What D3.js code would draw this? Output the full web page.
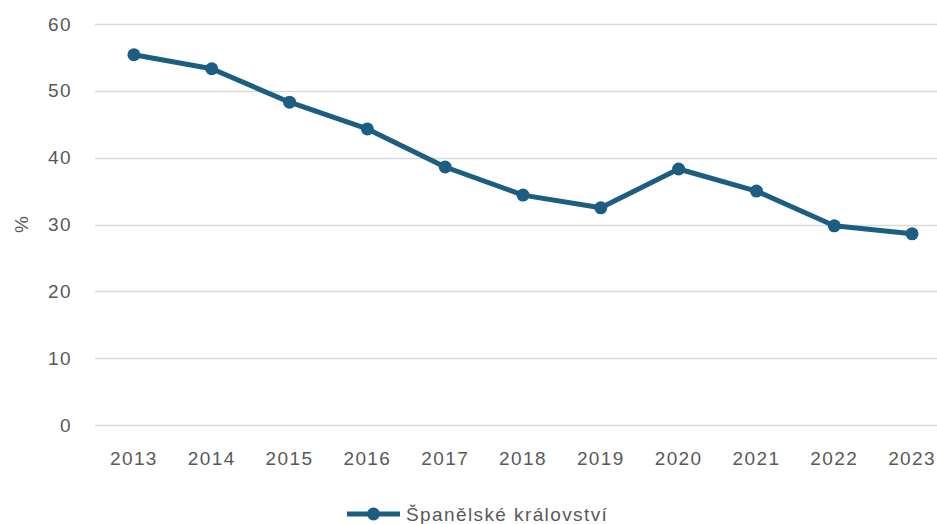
<!DOCTYPE html>
<html>
<head>
<meta charset="utf-8">
<script src="https://cdn.jsdelivr.net/npm/d3@7"></script>
<style>
  body { margin: 0; background: #fff; }
  svg { display: block; font-family: "Liberation Sans", Arial, sans-serif; }
</style>
</head>
<body>
<svg id="chart"></svg>
<script>
const years = ["2013", "2014", "2015", "2016", "2017", "2018", "2019", "2020", "2021", "2022", "2023"];
const values = [55.4, 53.3, 48.3, 44.3, 38.6, 34.4, 32.5, 38.3, 35.0, 29.8, 28.6];
const yTicks = [0, 10, 20, 30, 40, 50, 60];
const seriesName = "Španělské království";

const width = 937, height = 524;
const margin = { top: 24, bottom: 99, left: 95, right: -14 };
const color = "#1b5e82";
const textColor = "#595959";
const fontSize = 19;
const spacing = "1.4px";

const svg = d3.select("#chart")
    .attr("width", width)
    .attr("height", height);

const x = d3.scaleBand()
    .domain(years)
    .range([margin.left, width - margin.right]);

const y = d3.scaleLinear()
    .domain([0, 60])
    .range([height - margin.bottom, margin.top]);

// gridlines
svg.append("g")
    .selectAll("line")
    .data(yTicks)
    .enter().append("line")
    .attr("x1", margin.left)
    .attr("x2", width - margin.right)
    .attr("y1", d => Math.round(y(d)) + 0.5)
    .attr("y2", d => Math.round(y(d)) + 0.5)
    .attr("stroke", "#d9d9d9")
    .attr("stroke-width", 1.5);

// y axis labels
svg.append("g")
    .selectAll("text")
    .data(yTicks)
    .enter().append("text")
    .attr("x", 72)
    .attr("y", d => y(d))
    .attr("dy", "0.35em")
    .attr("text-anchor", "end")
    .attr("font-size", fontSize)
    .attr("letter-spacing", spacing)
    .attr("fill", textColor)
    .text(d => d);

// x axis labels
svg.append("g")
    .selectAll("text")
    .data(years)
    .enter().append("text")
    .attr("x", d => x(d) + x.bandwidth() / 2)
    .attr("y", 458)
    .attr("dy", "0.35em")
    .attr("text-anchor", "middle")
    .attr("font-size", fontSize)
    .attr("letter-spacing", spacing)
    .attr("fill", textColor)
    .text(d => d);

// y title
svg.append("text")
    .attr("transform", `translate(21,${y(30)}) rotate(-90)`)
    .attr("text-anchor", "middle")
    .attr("dy", "0.35em")
    .attr("font-size", fontSize)
    .attr("fill", textColor)
    .text("%");

const line = d3.line()
    .x((d, i) => x(years[i]) + x.bandwidth() / 2)
    .y(d => y(d));

svg.append("path")
    .datum(values)
    .attr("d", line)
    .attr("fill", "none")
    .attr("stroke", color)
    .attr("stroke-width", 5)
    .attr("stroke-linejoin", "round");

svg.append("g")
    .selectAll("circle")
    .data(values)
    .enter().append("circle")
    .attr("cx", (d, i) => x(years[i]) + x.bandwidth() / 2)
    .attr("cy", d => y(d))
    .attr("r", 6.5)
    .attr("fill", color);

// legend
const legend = svg.append("g").attr("transform", "translate(347,514)");
legend.append("line")
    .attr("x1", 0).attr("x2", 53)
    .attr("stroke", color)
    .attr("stroke-width", 5);
legend.append("circle")
    .attr("cx", 26.5)
    .attr("r", 6.5)
    .attr("fill", color);
legend.append("text")
    .attr("x", 59)
    .attr("dy", "0.35em")
    .attr("font-size", fontSize)
    .attr("letter-spacing", spacing)
    .attr("fill", textColor)
    .text(seriesName);
</script>
</body>
</html>
